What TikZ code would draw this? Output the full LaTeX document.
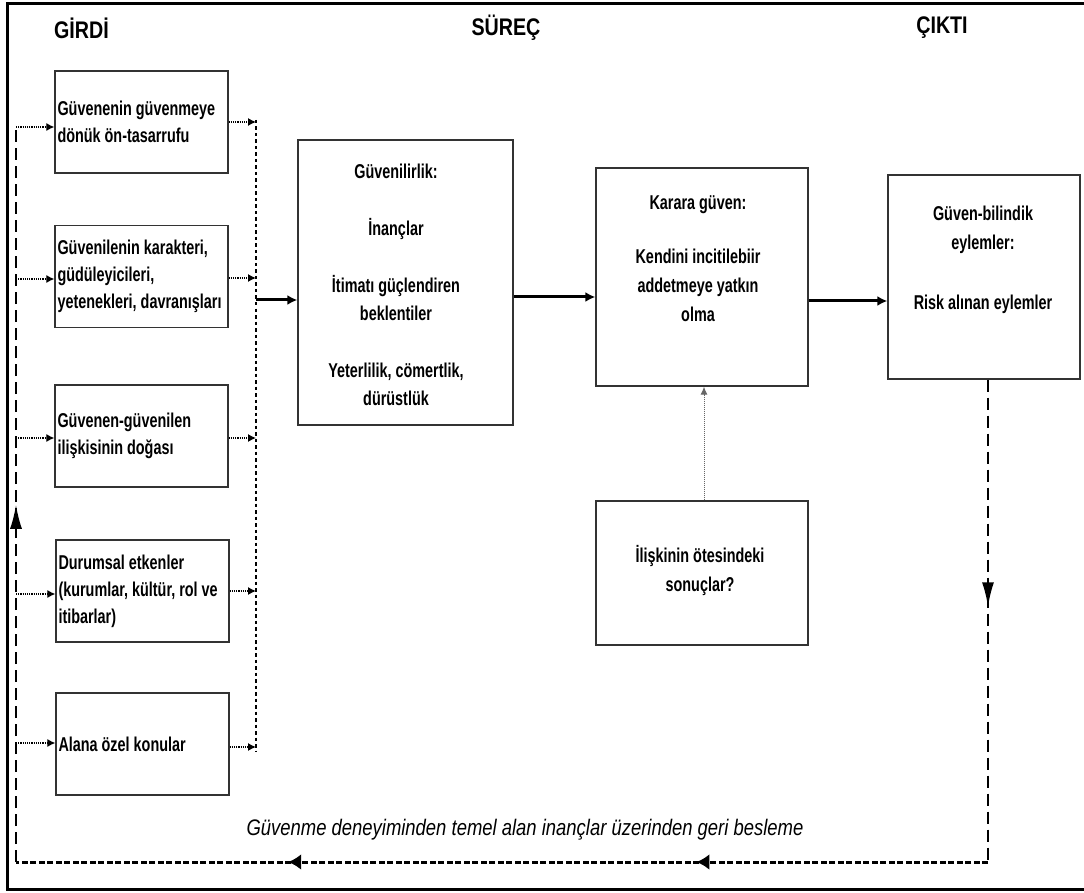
\documentclass[tikz,border=0pt]{standalone}
\usepackage{fontspec}
\setmainfont{Liberation Sans}[FakeStretch=0.82]
\newfontfamily\narrowfont{Liberation Sans}[FakeStretch=0.72]
\usetikzlibrary{arrows.meta,decorations.markings}
\begin{document}
\begin{tikzpicture}[x=1pt,y=-1pt,
  every node/.style={inner sep=0pt},
  boxtext/.style={font=\narrowfont\fontsize{20}{27}\selectfont\bfseries},
  inbox/.style={draw=black!80, line width=1.3pt, minimum width=173pt,
    minimum height=102pt, text width=168pt, align=flush left, inner sep=2.5pt, boxtext},
  bigbox/.style={draw=black!80, line width=1.3pt},
  boxlabel/.style={boxtext, align=center},
  heading/.style={font=\fontsize{24}{28}\selectfont\bfseries},
  dotarrow/.style={densely dotted, line width=1.2pt, -{Latex[length=8pt,width=8pt]}},
  collector/.style={dash pattern=on 3.5pt off 3pt, line width=1.4pt},
  mainarrow/.style={line width=3pt, -{Latex[length=10pt,width=10pt]}},
  hintarrow/.style={densely dotted, line width=1pt, black!60, -{Latex[length=8pt,width=7pt]}},
  fbline/.style={dash pattern=on 12pt off 6pt, line width=1.6pt},
  fbbottom/.style={dash pattern=on 6pt off 2.5pt, line width=3pt},
  midarrow/.style={postaction={decorate}, decoration={markings,
    mark=at position #1 with {\arrow{Latex[length=24pt,width=12pt]}}}},
  midarrowsmall/.style={postaction={decorate}, decoration={markings,
    mark=at position 0.30 with {\arrow{Latex[length=13pt,width=16pt]}},
    mark=at position 0.72 with {\arrow{Latex[length=13pt,width=16pt]}}}}
]
\useasboundingbox (0,0) rectangle (1084,893);
\clip (0,0) rectangle (1084,893);

% outer frame
\draw[line width=3pt] (1095,4) -- (7,4) -- (7,889) -- (1095,889);

% column headings
\node[heading] (hIn)  at (81.5,28) {GİRDİ};
\node[heading] (hPro) at (506,28)  {SÜREÇ};
\node[heading] (hOut) at (942,28)  {ÇIKTI};

% input boxes
\node[inbox] (b1) at (141.5,122)   {Güvenenin güvenmeye\\dönük ön-tasarrufu};
\node[inbox] (b2) at (141.5,276.5) {Güvenilenin karakteri,\\güdüleyicileri,\\yetenekleri, davranışları};
\node[inbox] (b3) at (141.5,436)   {Güvenen-güvenilen\\ilişkisinin doğası};
\node[inbox] (b4) at (142.5,591)   {Durumsal etkenler\\(kurumlar, kültür, rol ve\\itibarlar)};
\node[inbox] (b5) at (142.5,744)   {Alana özel konular};

% process and output boxes
\node[bigbox, minimum width=215pt, minimum height=285pt] (gv) at (405.5,282.5) {};
\node[boxlabel, font=\narrowfont\fontsize{20}{28}\selectfont\bfseries] (gvT) at (396,285)
  {Güvenilirlik:\\[29pt]İnançlar\\[29pt]İtimatı güçlendiren\\beklentiler\\[29pt]Yeterlilik, cömertlik,\\dürüstlük};

\node[bigbox, minimum width=212pt, minimum height=218pt] (kg) at (702,277) {};
\node[boxlabel, font=\narrowfont\fontsize{20}{29}\selectfont\bfseries] (kgT) at (698,259)
  {Karara güven:\\[25pt]Kendini incitilebiir\\addetmeye yatkın\\olma};

\node[bigbox, minimum width=192pt, minimum height=204pt] (ac) at (984,277) {};
\node[boxlabel, font=\narrowfont\fontsize{20}{29}\selectfont\bfseries] (acT) at (983,260)
  {Güven-bilindik\\eylemler:\\[31pt]Risk alınan eylemler};

\node[bigbox, minimum width=212pt, minimum height=144pt] (il) at (702,573) {};
\node[boxlabel, font=\narrowfont\fontsize{20}{29}\selectfont\bfseries] (ilT) at (700,570.5)
  {İlişkinin ötesindeki\\sonuçlar?};

% feedback caption
\node[font=\fontsize{22.5}{24}\selectfont\itshape] (fbT) at (525,830)
  {Güvenme deneyiminden temel alan inançlar üzerinden geri besleme};

% collector line on the input side
\coordinate (cTop) at (256,120);
\coordinate (cBot) at (256,752);
\draw[collector] (cTop) -- (cBot);

% inputs feeding the collector
\foreach \b/\y in {b1/122,b2/278,b3/438,b4/591,b5/747}{
  \coordinate (o\b) at (256,\y);
  \draw[dotarrow] (\b.east |- o\b) -- (o\b);
}

% feedback loop
\coordinate (fbR) at (988,862);
\coordinate (fbL) at (16,862);
\coordinate (fbTop) at (16,127);
\draw[fbline, midarrow=0.47] (ac.south -| fbR) -- (fbR);
\draw[fbbottom, midarrowsmall] (fbR) -- (fbL);
\draw[fbline, midarrow=0.486] (fbL) -- (fbTop);

% feedback re-entering each input
\foreach \b/\y in {b1/127,b2/279,b3/438,b4/594,b5/743}{
  \coordinate (i\b) at (16,\y);
  \draw[dotarrow] (i\b) -- (i\b -| \b.west);
}

% main flow
\coordinate (r1) at (0,300);
\coordinate (r2) at (0,297);
\coordinate (r3) at (0,301);
\draw[mainarrow] (cTop |- r1) -- (gv.west |- r1);
\draw[mainarrow] (gv.east |- r2) -- (kg.west |- r2);
\draw[mainarrow] (kg.east |- r3) -- (ac.west |- r3);

% consequences beyond the relationship
\coordinate (hx) at (704,0);
\draw[hintarrow] (il.north -| hx) -- (kg.south -| hx);
\end{tikzpicture}
\end{document}
